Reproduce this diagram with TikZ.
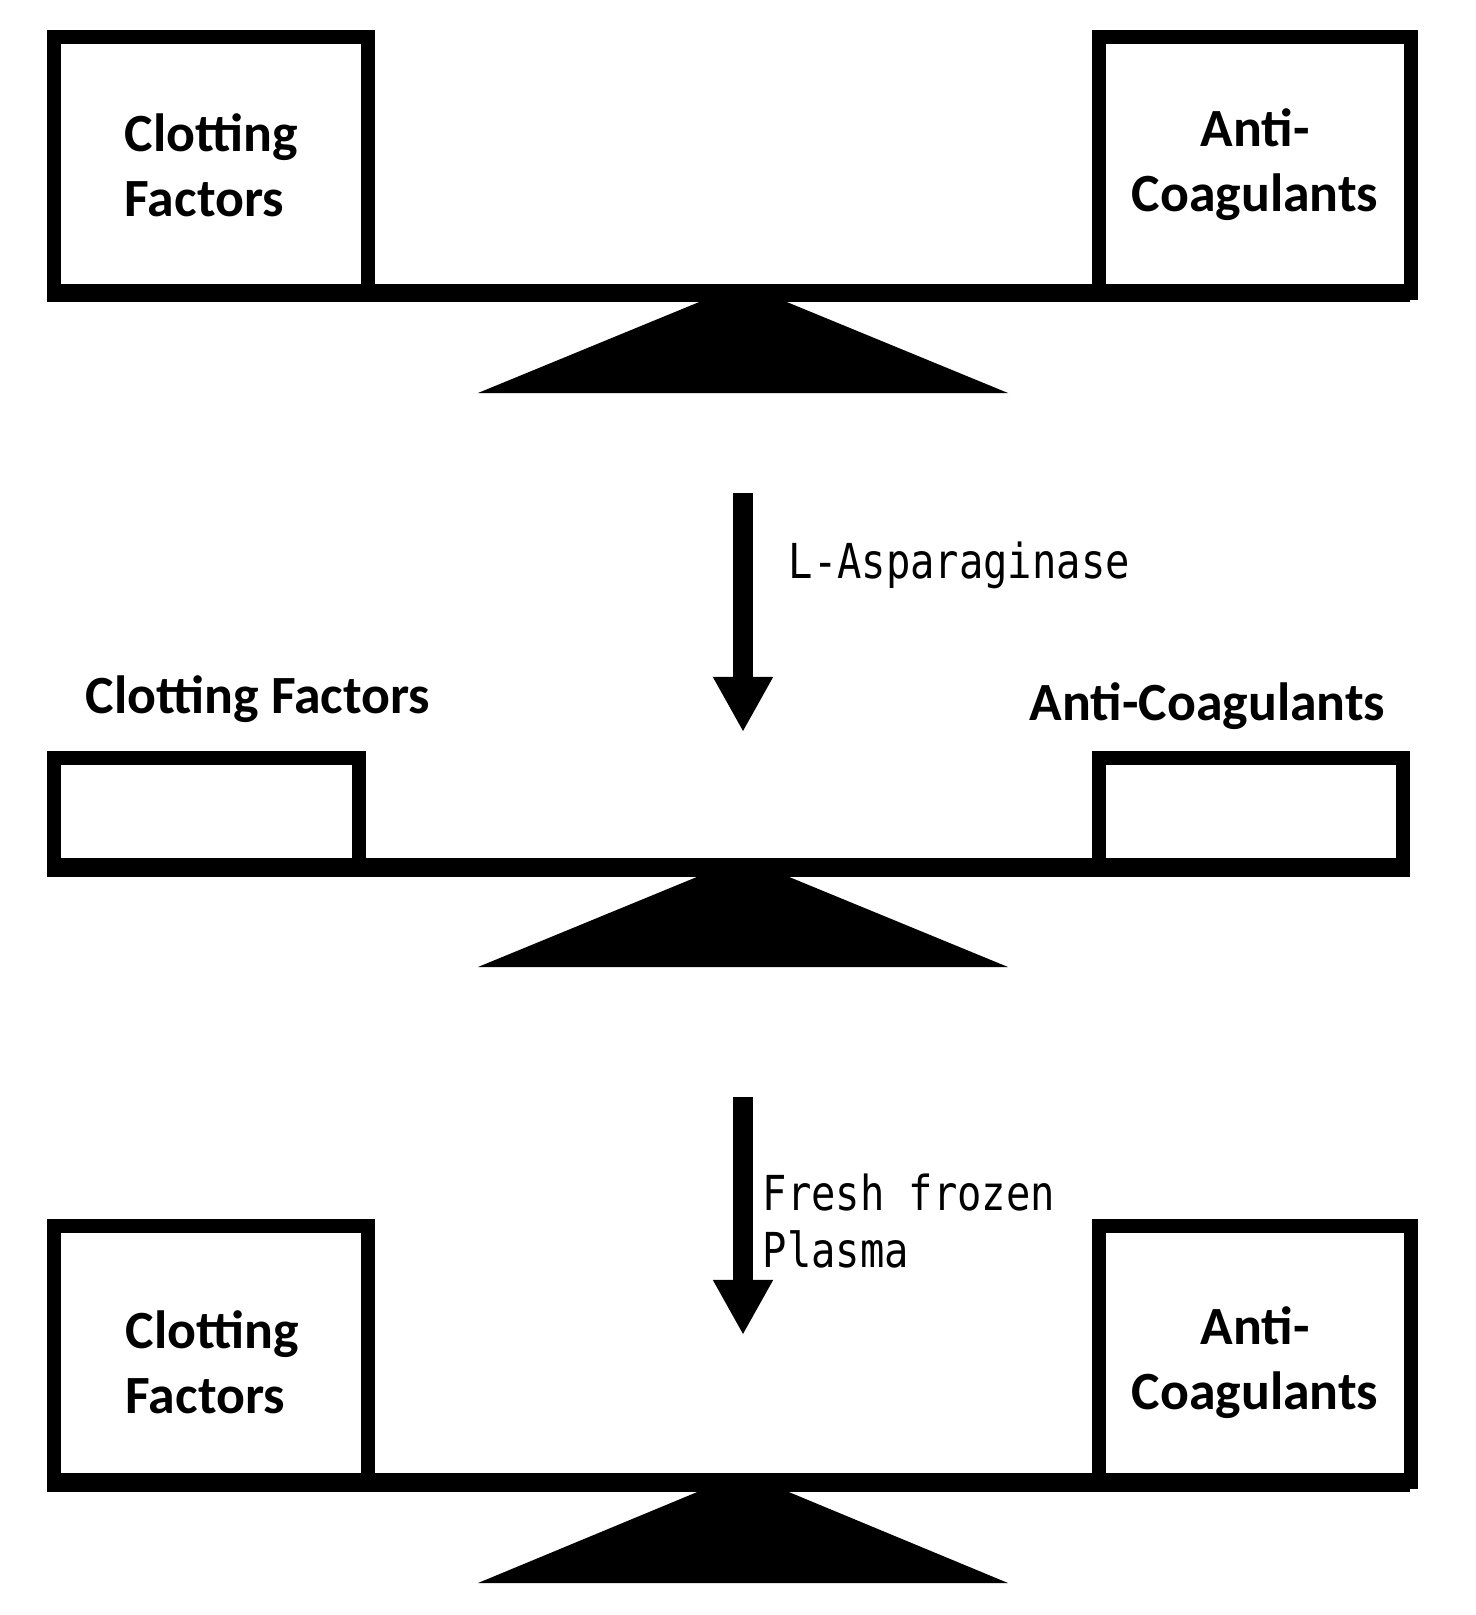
\documentclass[tikz,border=0pt]{standalone}
\usepackage{fontspec}
\setmainfont{Carlito}
\newfontfamily\drugfamily[FakeStretch=0.84]{DejaVu Sans Mono}
\usetikzlibrary{arrows.meta,calc}
\definecolor{ScaleClr}{rgb}{0,0,0}

\newcommand{\lblfont}{\fontsize{15.3}{18.4}\selectfont\bfseries}
\newcommand{\drugfont}{\fontsize{13.7}{16.2}\selectfont\drugfamily}

\tikzset{
  pan/.style={draw=ScaleClr,line width=0.14cm},
  beam/.style={fill=ScaleClr},
  pivot/.style={fill=ScaleClr},
  dose/.style={draw=ScaleClr,line width=0.2cm,-{Triangle[length=0.55cm,width=0.56cm]}},
  lbl/.style={font=\lblfont,inner sep=0pt},
  drug/.style={font=\drugfont,inner sep=0pt,align=left}
}

\begin{document}
\begin{tikzpicture}[x=0.01cm,y=-0.01cm]
\useasboundingbox (0,0) rectangle (1475,1615);

% balance before treatment
\draw[pan] (54,37) rectangle (368,293);
\draw[pan] (1099,37) rectangle (1411,293);
\fill[beam] (47,284) rectangle (1410,302);
\fill[pivot] (743,284) -- (1008,393) -- (478,393) -- cycle;
\node[lbl,align=left,anchor=base west] (CF1) at (124,216) {Clotting\\Factors};
\node[lbl,align=center,anchor=base] (AC1) at (1255,211) {Anti-\\Coagulants};

% asparaginase
\coordinate (A1) at (743,493);
\coordinate (B1) at (743,732);
\draw[dose] (A1) -- (B1);
\node[drug,anchor=base west] (asp) at (788,578) {L-Asparaginase};

% both sides lowered
\draw[pan] (54,758) rectangle (359,867);
\draw[pan] (1099,758) rectangle (1403,867);
\fill[beam] (47,858) rectangle (1410,877);
\fill[pivot] (743,858) -- (1008,967) -- (478,967) -- cycle;
\node[lbl,anchor=base west] (CF2) at (85,713) {Clotting Factors};
\node[lbl,anchor=base west] (AC2) at (1029,720) {Anti-Coagulants};

% plasma
\coordinate (A2) at (743,1097);
\coordinate (B2) at (743,1335);
\draw[dose] (A2) -- (B2);
\node[drug,anchor=base west] (ffp) at (762,1267) {Fresh frozen\\Plasma};

% balance restored
\draw[pan] (54,1226) rectangle (368,1482);
\draw[pan] (1099,1226) rectangle (1411,1482);
\fill[beam] (47,1473) rectangle (1410,1492);
\fill[pivot] (743,1473) -- (1008,1583) -- (478,1583) -- cycle;
\node[lbl,align=left,anchor=base west] (CF3) at (125,1413) {Clotting\\Factors};
\node[lbl,align=center,anchor=base] (AC3) at (1255,1409) {Anti-\\Coagulants};

\end{tikzpicture}
\end{document}
